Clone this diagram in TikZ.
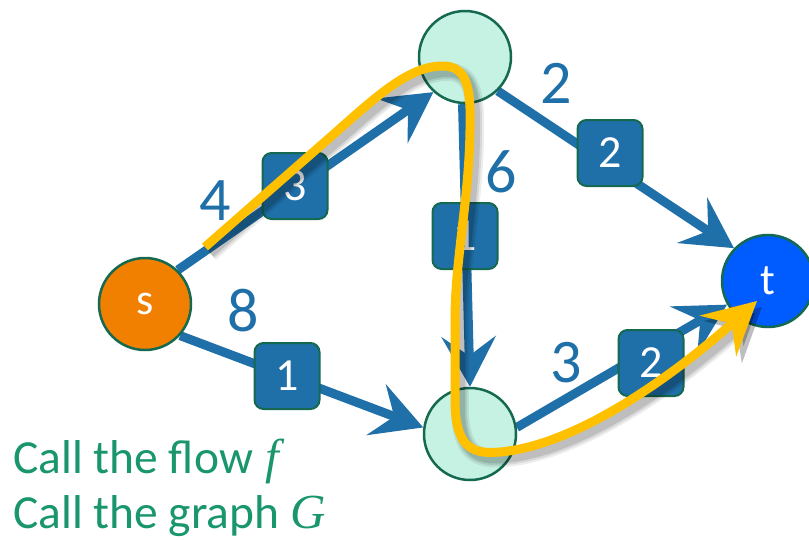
\documentclass[tikz,border=0pt]{standalone}
\usepackage{fontspec}
\setmainfont{Carlito}
\newfontfamily\mathfont{Liberation Serif}
\usetikzlibrary{arrows.meta}
\definecolor{edgeblue}{RGB}{31,111,168}
\definecolor{nodeline}{RGB}{20,105,80}
\definecolor{mint}{RGB}{198,242,228}
\definecolor{sorange}{RGB}{242,128,0}
\definecolor{tblue}{RGB}{0,92,255}
\definecolor{pathyellow}{RGB}{255,192,0}
\definecolor{textgreen}{RGB}{25,150,110}
\newcommand{\mvar}[1]{{\fontsize{49}{49}\mathfont\itshape #1}}
\begin{document}
\begin{tikzpicture}[x=1pt,y=-1pt,
  vert/.style={circle, draw=nodeline, line width=2.5pt, minimum size=92pt, inner sep=0pt, font=\fontsize{44}{44}\selectfont, text=white},
  flowedge/.style={draw=edgeblue, line width=9pt, -{Stealth[length=50pt,width=54pt,inset=19pt]}},
  flowbox/.style={draw=nodeline, fill=edgeblue, line width=2pt, rounded corners=9pt, minimum width=65pt, minimum height=66pt, inner sep=0pt, text=white, font=\fontsize{46}{46}\selectfont},
  capnum/.style={text=edgeblue, inner sep=0pt, font=\fontsize{62}{62}\selectfont},
  caption/.style={text=textgreen, anchor=base west, inner sep=0pt, font=\fontsize{47.5}{47.5}\selectfont},
  augpath/.style={draw=pathyellow, line width=9pt, line join=round, -{Stealth[length=52pt,width=54pt,inset=18pt]}},
  augshadow/.style={draw=black, line join=round, -{Stealth[length=52pt,width=56pt,inset=18pt]}}
]
\useasboundingbox (0,0) rectangle (809,539);

% node positions
\coordinate (sp) at (145,304);
\coordinate (up) at (465,57);
\coordinate (vp) at (470,434);
\coordinate (tp) at (768,281);

% invisible placeholders for borders (to draw edges first)
\node[vert, draw=none] (s) at (sp) {};
\node[vert, draw=none] (u) at (up) {};
\node[vert, draw=none] (v) at (vp) {};
\node[vert, draw=none] (t) at (tp) {};

% edges
\draw[flowedge] (s.46) -- (u.228);
\draw[flowedge] (s.-42) -- (v.172);
\draw[flowedge] (u.-93) -- (v.90);
\draw[flowedge] (u.-46) -- (t.136);
\draw[flowedge] (v.8) -- (t.210);

% flow boxes
\node[flowbox] (b1) at (295,186) {3};
\node[flowbox] (b2) at (287,376) {1};
\node[flowbox] (b3) at (465,236) {1};
\node[flowbox] (b4) at (610,153) {2};
\node[flowbox] (b5) at (651,363) {2};

% capacities
\node[capnum] (c1) at (215,201) {4};
\node[capnum] (c2) at (243,311) {8};
\node[capnum] (c3) at (501,172) {6};
\node[capnum] (c4) at (556,83) {2};
\node[capnum] (c5) at (566,363) {3};

% vertices
\node[vert, fill=sorange] (s2) at (sp) {s};
\node[vert, fill=mint] (u2) at (up) {};
\node[vert, fill=mint] (v2) at (vp) {};
\node[vert, fill=tblue] (t2) at (tp) {t};

% augmenting path soft shadow
\foreach \w/\o in {18/0.07, 14/0.09, 10/0.12}{
\begin{scope}[shift={(5,6)}]
\draw[augshadow, line width=\w pt, draw opacity=\o, fill opacity=\o] (205,247) -- (335,133) .. controls (380,93) and (410,66) .. (443,66)
  .. controls (468,66) and (471,90) .. (470,130)
  .. controls (469,200) and (455,260) .. (455,320) -- (455,400)
  .. controls (455,445) and (470,455) .. (500,452)
  .. controls (580,445) and (680,370) .. (757,301);
\end{scope}
}
% augmenting path
\draw[augpath] (205,247) -- (335,133) .. controls (380,93) and (410,66) .. (443,66)
  .. controls (468,66) and (471,90) .. (470,130)
  .. controls (469,200) and (455,260) .. (455,320) -- (455,400)
  .. controls (455,445) and (470,455) .. (500,452)
  .. controls (580,445) and (680,370) .. (757,301);

% captions
\node[caption] (l1) at (13,473) {Call the flow \hspace{2pt}\mvar{f}};
\node[caption] (l2) at (13,528) {Call the graph \mvar{G}};
\end{tikzpicture}
\end{document}
